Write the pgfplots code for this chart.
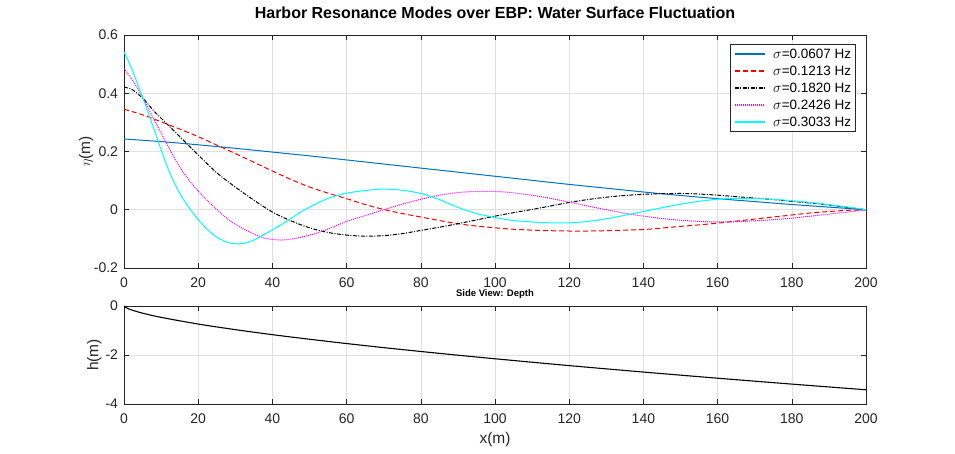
\documentclass[border=0pt]{standalone}
\usepackage{fontspec}
\setmainfont{Liberation Sans}
\usepackage{pgfplots}
\pgfplotsset{compat=1.18}
\definecolor{mblue}{rgb}{0,0.447,0.741}
\definecolor{mred}{rgb}{1,0,0}
\definecolor{mcyan}{rgb}{0,1,1}
\definecolor{mmag}{rgb}{1,0,1}
\definecolor{axgray}{rgb}{0.15,0.15,0.15}
\definecolor{gridgray}{RGB}{225,225,225}
\pgfplotsset{mystyle/.style={
  scale only axis, width=742pt,
  xmin=0, xmax=200, xtick={0,20,...,200},
  axis line style={axgray, line width=0.6pt},
  tick style={axgray, line width=0.6pt},
  major tick length=5pt, tick align=inside,
  grid=major, grid style={gridgray, line width=0.5pt},
  tick label style={font=\fontsize{14}{16}\selectfont, text=axgray},
  xticklabel style={yshift=-6pt},
  yticklabel style={xshift=-2.5pt},
  /pgf/number format/assume math mode=true,
  label style={font=\fontsize{15.5}{18}\selectfont, text=axgray},
}}
\tikzset{
  sA/.style={color=mblue, draw=mblue, line width=1pt, solid},
  sB/.style={color=mred, draw=mred, line width=1pt, dash pattern=on 5pt off 3pt},
  sC/.style={color=black, draw=black, line width=1pt, dash pattern=on 4pt off 1.5pt on 1pt off 1.5pt},
  sD/.style={color=mmag, draw=mmag, line width=1pt, dash pattern=on 1pt off 1pt},
  sE/.style={color=mcyan, draw=mcyan, line width=1pt, solid},
}
\begin{document}
\begin{tikzpicture}
\path (0pt,0pt) rectangle (955pt,454pt);
\begin{axis}[mystyle, at={(124pt,186pt)}, anchor=south west, height=233pt,
  ymin=-0.2, ymax=0.6, ytick={-0.2,0,0.2,0.4,0.6},
  yticklabel style={/pgf/number format/fixed, /pgf/number format/precision=1},
  ylabel={$\eta$(m)},
  ylabel style={at={(axis description cs:-0.0512,0.5)}, anchor=center},
  title={Harbor Resonance Modes over EBP: Water Surface Fluctuation},
  title style={font=\bfseries\fontsize{16}{18}\selectfont, text=black, at={(axis description cs:0.5,1)}, anchor=base, yshift=10pt},
  legend style={at={(axis description cs:0.9865,0.962)}, anchor=north east,
    draw=axgray, line width=0.6pt, fill=white, font=\fontsize{13.5}{15}\selectfont,
    cells={anchor=west}, row sep=4.5pt, inner xsep=3.5pt, inner ysep=3.5pt,
    nodes={inner sep=1pt, text height=9.5pt, text depth=1pt}},
]
\addplot[sA, smooth, forget plot] coordinates {
(0,0.243) (10,0.234) (20,0.223) (30,0.211) (40,0.198) (50,0.185) (60,0.171) (70,0.157) (80,0.143) (90,0.129) (100,0.115) (110,0.101) (120,0.087) (130,0.074) (140,0.061) (150,0.049) (160,0.038) (170,0.028) (180,0.018) (190,0.009) (200,0)};
\addplot[sB, smooth, forget plot] coordinates {
(0,0.345) (5,0.326) (10,0.302) (15,0.277) (20,0.251) (25,0.222) (30,0.193) (35,0.163) (40,0.133) (45,0.104) (50,0.078) (55,0.057) (60,0.038) (65,0.018) (70,0.001) (75,-0.013) (80,-0.025) (85,-0.037) (90,-0.048) (95,-0.056) (100,-0.062) (105,-0.067) (110,-0.070) (115,-0.072) (120,-0.073) (125,-0.073) (130,-0.072) (135,-0.070) (140,-0.068) (145,-0.063) (150,-0.057) (155,-0.052) (160,-0.046) (165,-0.039) (170,-0.032) (175,-0.025) (180,-0.018) (185,-0.011) (190,-0.006) (195,-0.002) (200,0)};
\addplot[sC, smooth, forget plot] coordinates {
(0,0.421) (2,0.414) (4,0.395) (6,0.370) (8,0.340) (11,0.302) (14,0.264) (17,0.226) (20,0.188) (25,0.127) (30,0.078) (35,0.033) (40,-0.008) (45,-0.038) (50,-0.062) (55,-0.078) (60,-0.087) (65,-0.091) (70,-0.089) (75,-0.082) (80,-0.071) (85,-0.060) (90,-0.048) (95,-0.035) (100,-0.022) (105,-0.010) (110,0.001) (115,0.013) (120,0.025) (125,0.035) (130,0.043) (135,0.049) (140,0.053) (145,0.055) (150,0.056) (155,0.054) (160,0.050) (165,0.045) (170,0.040) (175,0.035) (180,0.029) (185,0.023) (190,0.016) (195,0.008) (200,0)};
\addplot[sD, smooth, forget plot] coordinates {
(0,0.485) (2,0.450) (4,0.410) (6,0.362) (8,0.312) (10,0.263) (12,0.215) (14,0.168) (16,0.128) (18,0.094) (20,0.064) (22.5,0.031) (25,0.001) (27.5,-0.027) (30,-0.050) (32.5,-0.068) (35,-0.083) (37.5,-0.096) (40,-0.102) (42.5,-0.104) (45,-0.101) (47.5,-0.095) (50,-0.087) (52.5,-0.078) (55,-0.066) (57.5,-0.053) (60,-0.040) (65,-0.020) (70,0.0) (75,0.019) (80,0.036) (85,0.050) (90,0.059) (95,0.063) (100,0.063) (105,0.058) (110,0.050) (115,0.039) (120,0.026) (125,0.013) (130,0.000) (135,-0.012) (140,-0.022) (145,-0.030) (150,-0.036) (155,-0.040) (160,-0.042) (165,-0.041) (170,-0.038) (175,-0.034) (180,-0.029) (185,-0.022) (190,-0.015) (195,-0.008) (200,0)};
\addplot[sE, smooth, forget plot] coordinates {
(0,0.542) (2,0.487) (4,0.420) (6,0.352) (8,0.280) (10,0.206) (12,0.137) (14,0.081) (16,0.036) (18,-0.001) (20,-0.034) (22.5,-0.068) (25,-0.094) (27.5,-0.110) (30,-0.117) (32.5,-0.115) (35,-0.104) (37.5,-0.087) (40,-0.069) (42.5,-0.050) (45,-0.030) (47.5,-0.009) (50,0.009) (52.5,0.025) (55,0.039) (57.5,0.049) (60,0.057) (65,0.066) (70,0.071) (75,0.067) (80,0.056) (85,0.035) (90,0.008) (95,-0.013) (100,-0.027) (105,-0.037) (110,-0.042) (115,-0.045) (120,-0.045) (125,-0.040) (130,-0.031) (135,-0.019) (140,-0.006) (145,0.007) (150,0.019) (155,0.029) (160,0.036) (165,0.039) (170,0.039) (175,0.036) (180,0.031) (185,0.025) (190,0.017) (195,0.009) (200,0)};
\addlegendimage{legend image code/.code={\draw[sA, line width=1.4pt] (0pt,0pt) -- (30pt,0pt); \path (37pt,0pt);}}
\addlegendentry{$\sigma$=0.0607 Hz}
\addlegendimage{legend image code/.code={\draw[sB, line width=1.4pt] (0pt,0pt) -- (30pt,0pt); \path (37pt,0pt);}}
\addlegendentry{$\sigma$=0.1213 Hz}
\addlegendimage{legend image code/.code={\draw[sC, line width=1.4pt] (0pt,0pt) -- (30pt,0pt); \path (37pt,0pt);}}
\addlegendentry{$\sigma$=0.1820 Hz}
\addlegendimage{legend image code/.code={\draw[sD, line width=1.4pt] (0pt,0pt) -- (30pt,0pt); \path (37pt,0pt);}}
\addlegendentry{$\sigma$=0.2426 Hz}
\addlegendimage{legend image code/.code={\draw[sE, line width=1.4pt] (0pt,0pt) -- (30pt,0pt); \path (37pt,0pt);}}
\addlegendentry{$\sigma$=0.3033 Hz}
\end{axis}
\begin{axis}[mystyle, at={(124pt,50pt)}, anchor=south west, height=98pt,
  ymin=-4, ymax=0, ytick={-4,-2,0},
  ylabel={h(m)},
  ylabel style={at={(axis description cs:-0.0398,0.5)}, anchor=center},
  xlabel={x(m)},
  xlabel style={at={(axis description cs:0.5,-0.367)}, anchor=center},
  title={Side View: Depth},
  title style={font=\bfseries\fontsize{9.5}{11}\selectfont, text=black, at={(axis description cs:0.5,1)}, anchor=base, yshift=3.5pt},
]
\addplot[black, line width=1.1pt, smooth] coordinates {
(0,0) (0.5,-0.063) (1,-0.100) (2,-0.159) (5,-0.292) (10,-0.464) (20,-0.737) (30,-0.965) (40,-1.170) (50,-1.357) (60,-1.533) (70,-1.699) (80,-1.857) (90,-2.008) (100,-2.154) (120,-2.433) (140,-2.696) (160,-2.947) (180,-3.188) (200,-3.420)};
\end{axis}
\end{tikzpicture}
\end{document}
